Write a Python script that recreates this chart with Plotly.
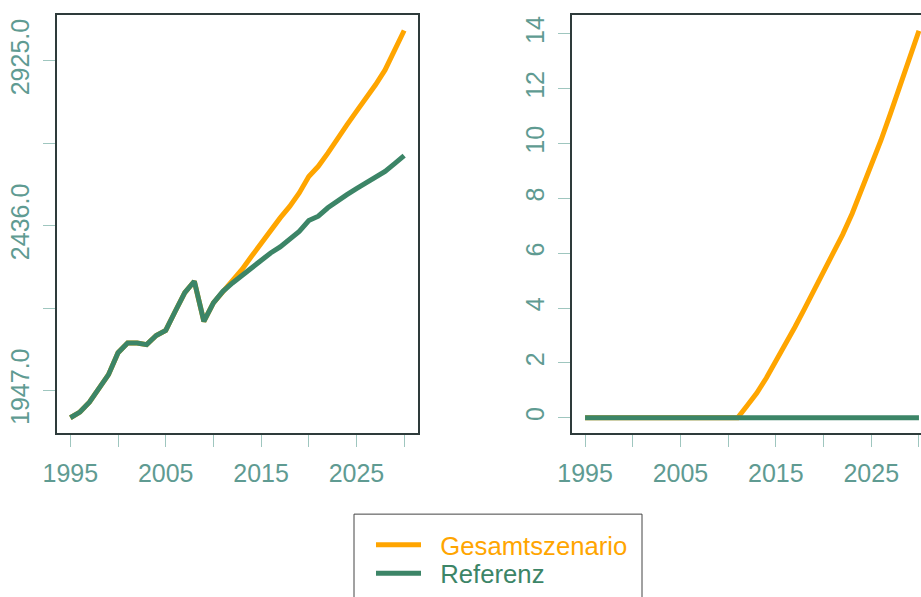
import plotly.graph_objects as go

years = list(range(1995, 2031))

# Left panel values
referenz_left = [1866, 1883, 1912, 1950, 1994, 2059, 2088, 2088, 2083, 2110,
                 2125, 2182, 2237, 2271, 2152, 2207, 2241, 2266, 2288, 2311,
                 2335, 2355, 2373, 2395, 2419, 2451, 2464, 2489, 2510, 2528,
                 2546, 2563, 2577, 2597, 2620, 2644]
gesamt_left = referenz_left[:17] + [2271, 2306, 2345, 2385, 2424, 2459, 2493,
                                    2533, 2582, 2612, 2651, 2696, 2735, 2775,
                                    2812, 2854, 2898, 2953, 3015]

# Right panel values
referenz_right = [0.0] * 36
gesamt_right = [0.0] * 17 + [0.45, 0.90, 1.45, 2.05, 2.66, 3.31, 3.97, 4.64,
                             5.30, 5.95, 6.68, 7.45, 8.30, 9.15, 10.10, 11.08,
                             12.12, 13.13, 14.11]

x_tickvals = [1995, 2000, 2005, 2010, 2015, 2020, 2025, 2030]
x_ticktext = ["1995", "", "2005", "", "2015", "", "2025", ""]
yl_tickvals = [1947, 2191.5, 2436, 2680.5, 2925]
yl_ticktext = ["1947.0", "", "2436.0", "", "2925.0"]
yr_tickvals = [0, 2, 4, 6, 8, 10, 12, 14]
yr_ticktext = ["0", "2", "4", "6", "8", "10", "12", "14"]

ORANGE = "#FFA500"
GREEN = "#3C8567"
TICKFONT = "#5F9B92"
TICKCOL = "#9FC6BF"
BOX = "#2E3B3B"
FONT = "Liberation Sans"

W, H = 921, 597

fig = go.Figure()
fig.add_trace(go.Scatter(x=years, y=gesamt_left, mode="lines",
                         name="\u00a0\u00a0Gesamtszenario",
                         line=dict(color=ORANGE, width=5), xaxis="x", yaxis="y",
                         legend="legend"))
fig.add_trace(go.Scatter(x=years, y=referenz_left, mode="lines",
                         name="\u00a0\u00a0Referenz",
                         line=dict(color=GREEN, width=5), xaxis="x", yaxis="y",
                         legend="legend2"))
fig.add_trace(go.Scatter(x=years, y=gesamt_right, mode="lines", name="Gesamtszenario",
                         line=dict(color=ORANGE, width=5), xaxis="x2", yaxis="y2",
                         showlegend=False))
fig.add_trace(go.Scatter(x=years, y=referenz_right, mode="lines", name="Referenz",
                         line=dict(color=GREEN, width=5), xaxis="x2", yaxis="y2",
                         showlegend=False))

top, bottom = 15, 434
ydom = [1 - bottom / H, 1 - top / H]


def xax(domain, rng):
    return dict(domain=domain, range=rng, tickvals=x_tickvals, ticktext=x_ticktext,
                ticks="outside", ticklen=12, tickwidth=1.2, tickcolor=TICKCOL,
                tickfont=dict(family=FONT, size=25, color=TICKFONT),
                showline=True, linecolor=BOX, linewidth=1.5, mirror=True,
                showgrid=False, zeroline=False, ticklabelstandoff=5,
                automargin=False)


def yax(domain, rng, tv, tt, anchor):
    return dict(domain=domain, range=rng, tickvals=tv, ticktext=tt, anchor=anchor,
                ticks="outside", ticklen=12, tickwidth=1.2, tickcolor=TICKCOL,
                tickangle=-90,
                tickfont=dict(family=FONT, size=25, color=TICKFONT),
                showline=True, linecolor=BOX, linewidth=1.5, mirror=False,
                showgrid=False, zeroline=False, ticklabelstandoff=4,
                automargin=False)


xl = [57 / W, 417.5 / W]
xr = [571.7 / W, 1.0]
x2_end = 1993.6 + (W - 571.7) / 9.54


def leg(ycenter, color):
    return dict(x=371 / W, y=1 - ycenter / H, xanchor="left", yanchor="middle",
                bgcolor="rgba(0,0,0,0)", borderwidth=0, itemwidth=45,
                font=dict(family=FONT, size=25.7, color=color))


fig.update_layout(
    width=W, height=H,
    margin=dict(l=0, r=0, t=0, b=0),
    paper_bgcolor="white", plot_bgcolor="white",
    xaxis=xax(xl, [1993.6, 2031.4]),
    yaxis=dict(yax(ydom, [1820.0, 3061.0], yl_tickvals, yl_ticktext, "x"), mirror=True),
    xaxis2=dict(xax(xr, [1993.6, x2_end]), anchor="y2"),
    yaxis2=yax(ydom, [-0.5648, 14.6848], yr_tickvals, yr_ticktext, "x2"),
    showlegend=True,
    legend=leg(545, ORANGE),
    legend2=leg(574, GREEN),
    shapes=[dict(type="rect", xref="paper", yref="paper",
                 x0=354 / W, x1=642 / W, y0=-0.05, y1=1 - 515 / H,
                 line=dict(color="#444444", width=1))],
)

fig.write_html("out.html", config={"displayModeBar": False},
               post_script="document.body.style.margin='0';document.body.style.padding='0';")
